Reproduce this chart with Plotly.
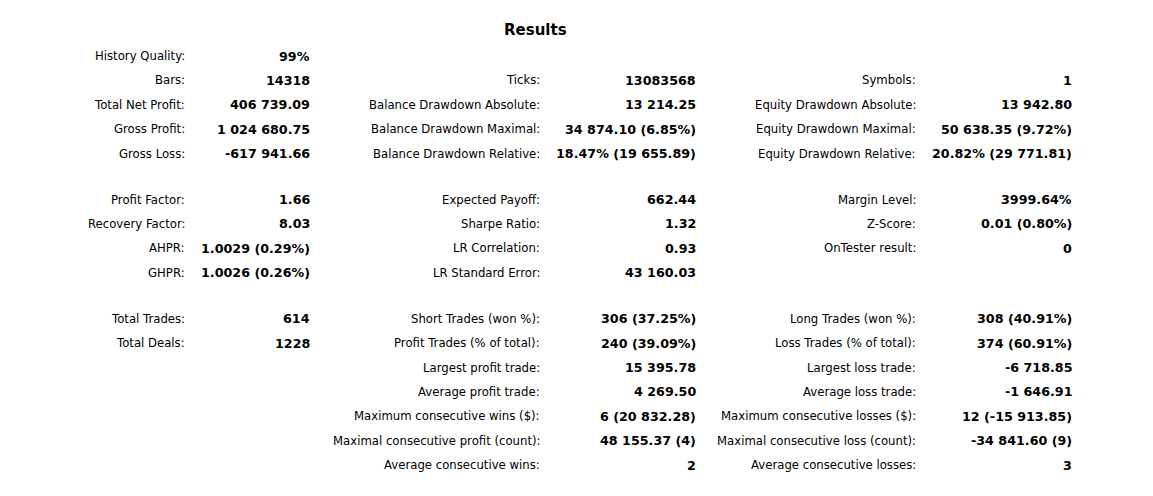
import plotly.graph_objects as go

# rows of the report; True marks a blank separator row
row_blank = [False, False, False, False, False, True, False, False, False, False, True,
             False, False, False, False, False, False, False]

col1_labels = ["History Quality:", "Bars:", "Total Net Profit:", "Gross Profit:", "Gross Loss:", None,
               "Profit Factor:", "Recovery Factor:", "AHPR:", "GHPR:", None,
               "Total Trades:", "Total Deals:", None, None, None, None, None]
col1_values = ["99%", "14318", "406 739.09", "1 024 680.75", "-617 941.66", None,
               "1.66", "8.03", "1.0029 (0.29%)", "1.0026 (0.26%)", None,
               "614", "1228", None, None, None, None, None]

col2_labels = [None, "Ticks:", "Balance Drawdown Absolute:", "Balance Drawdown Maximal:",
               "Balance Drawdown Relative:", None,
               "Expected Payoff:", "Sharpe Ratio:", "LR Correlation:", "LR Standard Error:", None,
               "Short Trades (won %):", "Profit Trades (% of total):", "Largest profit trade:",
               "Average profit trade:", "Maximum consecutive wins ($):",
               "Maximal consecutive profit (count):", "Average consecutive wins:"]
col2_values = [None, "13083568", "13 214.25", "34 874.10 (6.85%)", "18.47% (19 655.89)", None,
               "662.44", "1.32", "0.93", "43 160.03", None,
               "306 (37.25%)", "240 (39.09%)", "15 395.78", "4 269.50", "6 (20 832.28)",
               "48 155.37 (4)", "2"]

col3_labels = [None, "Symbols:", "Equity Drawdown Absolute:", "Equity Drawdown Maximal:",
               "Equity Drawdown Relative:", None,
               "Margin Level:", "Z-Score:", "OnTester result:", None, None,
               "Long Trades (won %):", "Loss Trades (% of total):", "Largest loss trade:",
               "Average loss trade:", "Maximum consecutive losses ($):",
               "Maximal consecutive loss (count):", "Average consecutive losses:"]
col3_values = [None, "1", "13 942.80", "50 638.35 (9.72%)", "20.82% (29 771.81)", None,
               "3999.64%", "0.01 (0.80%)", "0", None, None,
               "308 (40.91%)", "374 (60.91%)", "-6 718.85", "-1 646.91", "12 (-15 913.85)",
               "-34 841.60 (9)", "3"]

W, H = 1153, 496
FONT = "DejaVu Sans"
DX, DY = -5.5, -7   # page margin compensation

# right edges (px) of label / value for each column
label_right = [184, 539, 915]
value_right = [309, 695, 1071]

# vertical position of each row in px
row_y = []
y = 55.0
for i, blank in enumerate(row_blank):
    row_y.append(y)
    y += 21.3 if blank else 24.45


def px(x):
    return (x + DX) / W


def py(v):
    return 1 - (v + DY) / H


annotations = [dict(text="<b>Results</b>", x=px(533), y=py(29), xref="paper", yref="paper",
                    xanchor="center", yanchor="middle", showarrow=False,
                    font=dict(family=FONT, size=15, color="#000000"))]

cols = [(col1_labels, col1_values), (col2_labels, col2_values), (col3_labels, col3_values)]
for c, (labs, vals) in enumerate(cols):
    for i in range(len(row_blank)):
        if labs[i] is not None:
            annotations.append(dict(text=labs[i], x=px(label_right[c]), y=py(row_y[i]),
                                    xref="paper", yref="paper", xanchor="right", yanchor="middle",
                                    showarrow=False, font=dict(family=FONT, size=11.7, color="#000000")))
        if vals[i] is not None:
            annotations.append(dict(text="<b>" + vals[i] + "</b>", x=px(value_right[c]), y=py(row_y[i]),
                                    xref="paper", yref="paper", xanchor="right", yanchor="middle",
                                    showarrow=False, font=dict(family=FONT, size=12.7, color="#000000")))

fig = go.Figure()
fig.update_layout(
    width=W, height=H,
    margin=dict(l=0, r=0, t=0, b=0),
    paper_bgcolor="white", plot_bgcolor="white",
    xaxis=dict(visible=False, range=[0, 1]),
    yaxis=dict(visible=False, range=[0, 1]),
    annotations=annotations,
    showlegend=False,
)
fig.write_html("out.html")
